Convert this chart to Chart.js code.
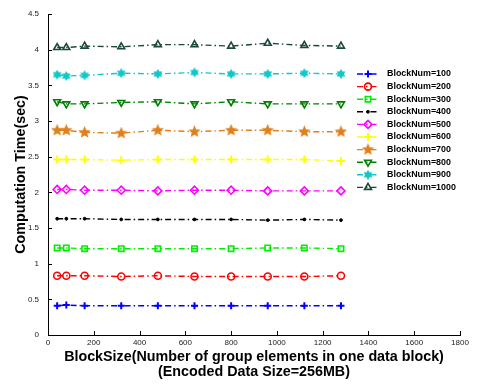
<!DOCTYPE html>
<html>
<head>
<meta charset="utf-8">
<script src="https://cdn.jsdelivr.net/npm/chart.js@4.4.1/dist/chart.umd.min.js"></script>
<style>
  html, body { margin: 0; padding: 0; background: #fff; }
  #wrap { width: 480px; height: 388px; }
</style>
</head>
<body>
<div id="wrap"><canvas id="chart" width="480" height="388"></canvas></div>
<script>
// Data
const blockSizes = [40, 80, 160, 320, 480, 640, 800, 960, 1120, 1280];
const seriesNames = ['BlockNum=100', 'BlockNum=200', 'BlockNum=300', 'BlockNum=400', 'BlockNum=500',
    'BlockNum=600', 'BlockNum=700', 'BlockNum=800', 'BlockNum=900', 'BlockNum=1000'];
const bn100 = [0.41, 0.42, 0.41, 0.41, 0.41, 0.41, 0.41, 0.41, 0.41, 0.41];
const bn200 = [0.83, 0.83, 0.83, 0.82, 0.83, 0.82, 0.82, 0.82, 0.82, 0.83];
const bn300 = [1.22, 1.22, 1.21, 1.21, 1.21, 1.21, 1.21, 1.22, 1.22, 1.21];
const bn400 = [1.63, 1.63, 1.63, 1.62, 1.62, 1.62, 1.62, 1.61, 1.62, 1.61];
const bn500 = [2.04, 2.04, 2.03, 2.03, 2.02, 2.03, 2.03, 2.02, 2.02, 2.02];
const bn600 = [2.46, 2.46, 2.46, 2.45, 2.46, 2.46, 2.46, 2.46, 2.46, 2.44];
const bn700 = [2.87, 2.87, 2.84, 2.83, 2.87, 2.85, 2.87, 2.87, 2.85, 2.85];
const bn800 = [3.27, 3.24, 3.24, 3.26, 3.27, 3.24, 3.27, 3.24, 3.24, 3.24];
const bn900 = [3.65, 3.63, 3.64, 3.67, 3.66, 3.68, 3.66, 3.66, 3.67, 3.66];
const bn1000 = [4.03, 4.03, 4.05, 4.04, 4.07, 4.07, 4.05, 4.09, 4.06, 4.05];
const xTicks = [0, 200, 400, 600, 800, 1000, 1200, 1400, 1600, 1800];
const yTicks = [0, 0.5, 1, 1.5, 2, 2.5, 3, 3.5, 4, 4.5];

// Filled star markers (matlab 'p' and 'h')
function starMarker(color, points, size, inner) {
    const c = document.createElement('canvas');
    c.width = size; c.height = size;
    const g = c.getContext('2d');
    const r = size / 2, cx = size / 2, cy = size / 2;
    g.beginPath();
    for (let i = 0; i < points * 2; i++) {
        const rr = i % 2 === 0 ? r : r * inner;
        const a = -Math.PI / 2 + i * Math.PI / points;
        const px = cx + rr * Math.cos(a), py = cy + rr * Math.sin(a);
        i === 0 ? g.moveTo(px, py) : g.lineTo(px, py);
    }
    g.closePath();
    g.fillStyle = color;
    g.fill();
    return c;
}

const pentagram = starMarker('#e0801a', 5, 13, 0.45);
const hexagram = starMarker('#10c8c8', 6, 10, 0.6);

const dash = [6, 3, 1.5, 3];
const fontFam = '"Liberation Sans", Arial, sans-serif';

const styles = [
    { color: '#0000ff', pointStyle: 'cross', radius: 3.5, bw: 2, fill: false },
    { color: '#ff0000', pointStyle: 'circle', radius: 3.5, bw: 1.6, fill: false },
    { color: '#00ee00', pointStyle: 'rect', radius: 3.8, bw: 1.6, fill: false },
    { color: '#000000', pointStyle: 'circle', radius: 1.4, bw: 1, fill: true },
    { color: '#ff00ff', pointStyle: 'rectRot', radius: 4, bw: 1.6, fill: false },
    { color: '#ffff00', pointStyle: 'cross', radius: 4, bw: 2, fill: false },
    { color: '#e0801a', pointStyle: pentagram, radius: 5, bw: 1, fill: true },
    { color: '#008000', pointStyle: 'triangle', radius: 4, bw: 1.6, fill: false, rotation: 180 },
    { color: '#10c8c8', pointStyle: hexagram, radius: 4, bw: 1, fill: true },
    { color: '#1a4a35', pointStyle: 'triangle', radius: 4, bw: 1.6, fill: false }
];

const values = [bn100, bn200, bn300, bn400, bn500, bn600, bn700, bn800, bn900, bn1000];

const datasets = values.map((v, i) => {
    const s = styles[i];
    return {
        label: seriesNames[i],
        data: blockSizes.map((x, j) => ({ x: x, y: v[j] })),
        borderColor: s.color,
        backgroundColor: s.color,
        borderWidth: 1.4,
        borderDash: dash,
        pointStyle: s.pointStyle,
        pointRadius: s.radius,
        pointBorderWidth: s.bw,
        pointRotation: s.rotation || 0,
        pointBackgroundColor: s.fill ? s.color : 'rgba(0,0,0,0)',
        pointBorderColor: s.color,
        tension: 0
    };
});

// Inward ticks (matlab look)
const innerTicks = {
    id: 'innerTicks',
    afterDraw(chart) {
        const ctx = chart.ctx;
        const xs = chart.scales.x, ys = chart.scales.y;
        const a = chart.chartArea;
        ctx.save();
        ctx.strokeStyle = '#000';
        ctx.lineWidth = 1;
        ctx.beginPath();
        xTicks.forEach(t => {
            const px = Math.round(xs.getPixelForValue(t)) + 0.5;
            ctx.moveTo(px, a.bottom);
            ctx.lineTo(px, a.bottom - 4);
        });
        yTicks.forEach(t => {
            const py = Math.round(ys.getPixelForValue(t)) + 0.5;
            ctx.moveTo(a.left, py);
            ctx.lineTo(a.left + 4, py);
        });
        ctx.stroke();
        ctx.restore();
    }
};

// Legend drawn inside the plot, right side
const boxLegend = {
    id: 'boxLegend',
    afterDraw(chart) {
        const ctx = chart.ctx;
        const x0 = 357, y0 = 74, step = 12.6;
        ctx.save();
        chart.data.datasets.forEach((ds, i) => {
            const y = y0 + i * step;
            ctx.strokeStyle = ds.borderColor;
            ctx.lineWidth = 1.4;
            ctx.setLineDash(dash);
            ctx.beginPath();
            ctx.moveTo(x0, y);
            ctx.lineTo(x0 + 22, y);
            ctx.stroke();
            ctx.setLineDash([]);
            ctx.fillStyle = ds.pointBackgroundColor;
            ctx.strokeStyle = ds.pointBorderColor;
            ctx.lineWidth = ds.pointBorderWidth;
            Chart.helpers.drawPoint(ctx, {
                pointStyle: ds.pointStyle,
                radius: ds.pointRadius,
                borderWidth: ds.pointBorderWidth,
                rotation: ds.pointRotation
            }, x0 + 11, y);
            ctx.fillStyle = '#000';
            ctx.font = 'bold 8.9px ' + fontFam;
            ctx.textBaseline = 'middle';
            ctx.fillText(ds.label, x0 + 30, y);
        });
        ctx.restore();
    }
};

new Chart(document.getElementById('chart'), {
    type: 'line',
    data: { datasets: datasets },
    options: {
        responsive: false,
        animation: false,
        layout: { padding: { top: 14, right: 20, left: 0, bottom: 0 } },
        plugins: {
            legend: { display: false },
            tooltip: { enabled: false }
        },
        scales: {
            x: {
                type: 'linear',
                min: 0,
                max: 1800,
                afterBuildTicks: s => { s.ticks = xTicks.map(v => ({ value: v })); },
                afterFit: s => { s.height = 53; },
                grid: { display: false, drawTicks: false },
                border: { display: true, color: '#000', width: 1 },
                ticks: {
                    padding: 3,
                    color: '#222',
                    maxRotation: 0,
                    callback: v => String(v),
                    font: { family: fontFam, size: 8 }
                },
                title: {
                    display: true,
                    text: ['BlockSize(Number of group elements in one data block)', '(Encoded Data Size=256MB)'],
                    color: '#000',
                    padding: { top: 0, bottom: 9 },
                    font: { family: fontFam, size: 14.3, weight: 'bold', lineHeight: 1.0 }
                }
            },
            y: {
                type: 'linear',
                min: 0,
                max: 4.5,
                afterBuildTicks: s => { s.ticks = yTicks.map(v => ({ value: v })); },
                afterFit: s => { s.width = 48; },
                grid: { display: false, drawTicks: false },
                border: { display: true, color: '#000', width: 1 },
                ticks: {
                    padding: 9,
                    color: '#222',
                    callback: v => String(v),
                    font: { family: fontFam, size: 8 }
                },
                title: {
                    display: true,
                    text: 'Computation Time(sec)',
                    color: '#000',
                    padding: { top: 12, bottom: 0 },
                    font: { family: fontFam, size: 14.3, weight: 'bold' }
                }
            }
        }
    },
    plugins: [innerTicks, boxLegend]
});
</script>
</body>
</html>
